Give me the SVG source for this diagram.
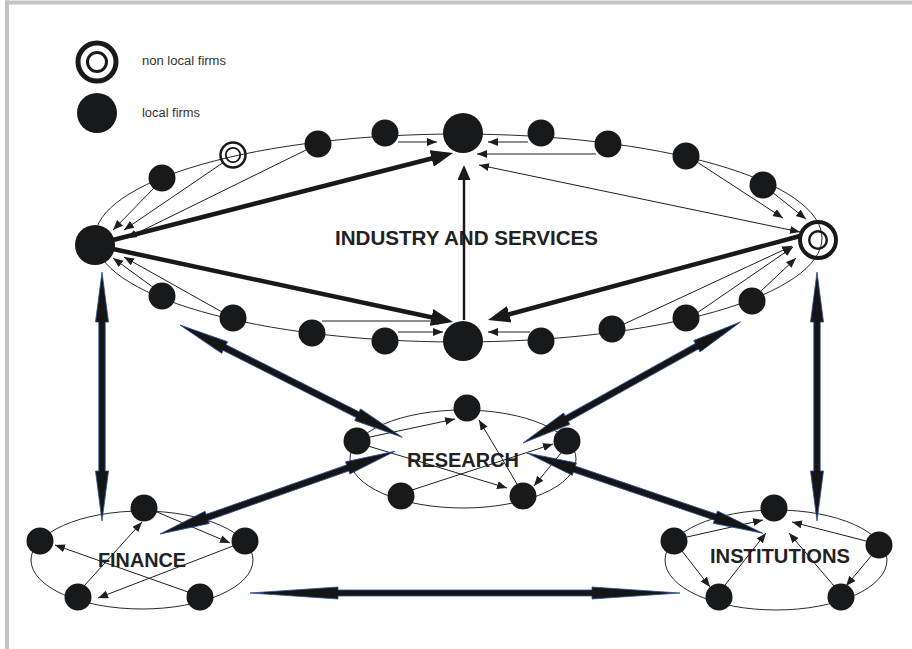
<svg xmlns="http://www.w3.org/2000/svg" width="912" height="649" viewBox="0 0 912 649">
<style>
.ell{fill:none;stroke:#2a2a2a;stroke-width:1}
.n{fill:#18191b}
.ring{fill:none;stroke:#18191b}
.t{stroke:#1e1e1e;stroke-width:1;fill:none;marker-end:url(#ah)}
.thick{stroke:#18191b;stroke-width:4.5;fill:none;marker-end:url(#ahT)}
.big{fill:#151515;stroke:#2d4f9e;stroke-width:0.8}
.lbl{font-family:"Liberation Sans",Arial,sans-serif;font-weight:bold;fill:#222}
.leg{font-family:"Liberation Sans",Arial,sans-serif;font-size:12px;fill:#333}
</style>
<defs>
<marker id="ah" markerUnits="userSpaceOnUse" markerWidth="11" markerHeight="9" refX="10" refY="4" orient="auto"><path d="M0,0 L10,4 L0,8 Z" fill="#1e1e1e"/></marker>
<marker id="ahs" markerUnits="userSpaceOnUse" markerWidth="11" markerHeight="9" refX="10" refY="4" orient="auto-start-reverse"><path d="M0,0 L10,4 L0,8 Z" fill="#1e1e1e"/></marker>
<marker id="ahT" markerUnits="userSpaceOnUse" markerWidth="23" markerHeight="18" refX="14" refY="8.5" orient="auto"><path d="M0,0 L22,8.5 L0,17 Z" fill="#18191b"/></marker>
<marker id="ahM" markerUnits="userSpaceOnUse" markerWidth="16" markerHeight="13" refX="9" refY="6.5" orient="auto"><path d="M0,0 L15,6.5 L0,13 Z" fill="#18191b"/></marker>
<path id="dbl" d="M0,0 L50,-6.5 L50,-3.2 L199,-3.2 L199,-6.5 L249,0 L199,6.5 L199,3.2 L50,3.2 L50,6.5 Z"/>
<path id="dblH" d="M0,0 L88,-6 L88,-3 L342,-3 L342,-6 L430,0 L342,6 L342,3 L88,3 L88,6 Z"/>
</defs>
<rect width="912" height="649" fill="#fff"/>
<rect x="5" y="0.5" width="907" height="4" fill="#c3c3c3"/>
<rect x="5" y="0.5" width="4" height="648.5" fill="#c3c3c3"/>

<g id="legend">
<circle cx="97" cy="62" r="19" fill="none" stroke="#18191b" stroke-width="5"/>
<circle cx="97" cy="62" r="9.5" fill="none" stroke="#18191b" stroke-width="3"/>
<text class="leg" x="142" y="65" textLength="84" lengthAdjust="spacingAndGlyphs">non local firms</text>
<circle cx="97" cy="113" r="20" fill="#18191b"/>
<text class="leg" x="142" y="117" textLength="58" lengthAdjust="spacingAndGlyphs">local firms</text>
</g>

<g id="industry">
<ellipse class="ell" cx="458.5" cy="238" rx="363.5" ry="104"/>
<text class="lbl" x="335" y="245" font-size="20" textLength="263" lengthAdjust="spacingAndGlyphs">INDUSTRY AND SERVICES</text>
</g>
<g id="research">
<ellipse class="ell" cx="463" cy="459" rx="113" ry="49"/>
<text class="lbl" x="407" y="467" font-size="21" textLength="112" lengthAdjust="spacingAndGlyphs">RESEARCH</text>
</g>
<g id="finance">
<ellipse class="ell" cx="142" cy="560" rx="111" ry="49"/>
<text class="lbl" x="98" y="567" font-size="21" textLength="88" lengthAdjust="spacingAndGlyphs">FINANCE</text>
</g>
<g id="institutions">
<ellipse class="ell" cx="776" cy="560" rx="111" ry="50"/>
<text class="lbl" x="710" y="563" font-size="21" textLength="140" lengthAdjust="spacingAndGlyphs">INSTITUTIONS</text>
</g>

<g id="connectors">
<!-- industry thin arrows -->
<line class="t" x1="398" y1="142" x2="437" y2="142"/>
<line class="t" x1="528" y1="142" x2="488" y2="142"/>
<line class="t" x1="596" y1="154" x2="477" y2="154"/>
<line class="t" x1="800" y1="232" x2="479" y2="165" style="marker-start:url(#ahs)"/>
<line class="t" x1="154" y1="188" x2="113" y2="230"/>
<line class="t" x1="224" y1="162" x2="124" y2="230"/>
<line class="t" x1="306" y1="150" x2="127" y2="238"/>
<line class="t" x1="154" y1="288" x2="113" y2="258"/>
<line class="t" x1="222" y1="312" x2="124" y2="257"/>
<line class="t" x1="697" y1="162" x2="783" y2="218"/>
<line class="t" x1="772" y1="192" x2="806" y2="219"/>
<line class="t" x1="622" y1="325" x2="792" y2="246"/>
<line class="t" x1="697" y1="313" x2="793" y2="247"/>
<line class="t" x1="760" y1="292" x2="796" y2="258"/>
<line class="t" x1="322" y1="321" x2="447" y2="321"/>
<line class="t" x1="398" y1="332" x2="443" y2="332"/>
<line class="t" x1="530" y1="332" x2="488" y2="332"/>
<!-- industry thick arrows -->
<line class="thick" x1="113" y1="240" x2="445.2" y2="155"/>
<line class="thick" x1="113" y1="249" x2="445.2" y2="320.3"/>
<line class="thick" x1="800" y1="236" x2="495.7" y2="317.9"/>
<line x1="464" y1="320" x2="464" y2="171" stroke="#18191b" stroke-width="2.5" marker-end="url(#ahM)"/>
<!-- research -->
<line class="t" x1="370" y1="437" x2="455" y2="419"/>
<line class="t" x1="368" y1="446" x2="507" y2="488"/>
<line class="t" x1="412" y1="490" x2="553" y2="444"/>
<line class="t" x1="517" y1="484" x2="479" y2="420"/>
<line class="t" x1="561" y1="453" x2="534" y2="486"/>
<!-- finance -->
<line class="t" x1="157" y1="512" x2="230" y2="543"/>
<line class="t" x1="233" y1="546" x2="98" y2="598"/>
<line class="t" x1="188" y1="592" x2="55" y2="545"/>
<line class="t" x1="84" y1="586" x2="142" y2="522"/>
<!-- institutions -->
<line class="t" x1="687" y1="537" x2="763" y2="520"/>
<line class="t" x1="682" y1="551" x2="710" y2="587"/>
<line class="t" x1="725" y1="585" x2="766" y2="533"/>
<line class="t" x1="834" y1="586" x2="789" y2="533"/>
<line class="t" x1="866" y1="541" x2="792" y2="522"/>
<line class="t" x1="872" y1="555" x2="846" y2="586"/>
<!-- big double arrows between sectors -->
<use href="#dbl" class="big" transform="translate(102,272) rotate(90)"/>
<use href="#dbl" class="big" transform="translate(817,272) rotate(90)"/>
<use href="#dbl" class="big" transform="translate(180,325) rotate(26.8)"/>
<use href="#dbl" class="big" transform="translate(523,443) rotate(-29.1)"/>
<use href="#dbl" class="big" transform="translate(160,534) rotate(-19.4)"/>
<use href="#dbl" class="big" transform="translate(527,453) rotate(18.8)"/>
<use href="#dblH" class="big" transform="translate(250,593)"/>
</g>

<!-- industry nodes -->
<g id="i-left"><circle class="n" cx="95" cy="245" r="20"/></g>
<g id="i-t1"><circle class="n" cx="162" cy="178" r="13.5"/></g>
<g id="i-t2"><circle class="ring" cx="233" cy="155" r="12.5" stroke-width="2.5"/><circle class="ring" cx="233" cy="155" r="7.2" stroke-width="1.8"/></g>
<g id="i-t3"><circle class="n" cx="318" cy="144" r="13.5"/></g>
<g id="i-t4"><circle class="n" cx="385" cy="133" r="13.5"/></g>
<g id="i-top"><circle class="n" cx="463" cy="133" r="20"/></g>
<g id="i-t5"><circle class="n" cx="541" cy="133" r="13.5"/></g>
<g id="i-t6"><circle class="n" cx="608" cy="144" r="13.5"/></g>
<g id="i-t7"><circle class="n" cx="686" cy="156" r="13.5"/></g>
<g id="i-t8"><circle class="n" cx="763" cy="185" r="13.5"/></g>
<g id="i-right"><circle class="ring" cx="818" cy="240" r="18" stroke-width="4"/><circle class="ring" cx="818" cy="240" r="8.8" stroke-width="2.4"/></g>
<g id="i-b1"><circle class="n" cx="162" cy="296" r="13.5"/></g>
<g id="i-b2"><circle class="n" cx="233" cy="318" r="13.5"/></g>
<g id="i-b3"><circle class="n" cx="312" cy="333" r="13.5"/></g>
<g id="i-b4"><circle class="n" cx="385" cy="341" r="13.5"/></g>
<g id="i-bottom"><circle class="n" cx="463" cy="341" r="20"/></g>
<g id="i-b5"><circle class="n" cx="541" cy="341" r="13.5"/></g>
<g id="i-b6"><circle class="n" cx="612" cy="329" r="13.5"/></g>
<g id="i-b7"><circle class="n" cx="686" cy="318" r="13.5"/></g>
<g id="i-b8"><circle class="n" cx="752" cy="301" r="13.5"/></g>
<!-- research nodes -->
<g id="r-top"><circle class="n" cx="467" cy="408" r="13.5"/></g>
<g id="r-left"><circle class="n" cx="357" cy="441" r="13.5"/></g>
<g id="r-right"><circle class="n" cx="567" cy="441" r="13.5"/></g>
<g id="r-bl"><circle class="n" cx="401" cy="496" r="13.5"/></g>
<g id="r-br"><circle class="n" cx="523" cy="496" r="13.5"/></g>
<!-- finance nodes -->
<g id="f-top"><circle class="n" cx="144" cy="508" r="13.5"/></g>
<g id="f-left"><circle class="n" cx="40" cy="541" r="13.5"/></g>
<g id="f-right"><circle class="n" cx="245" cy="541" r="13.5"/></g>
<g id="f-bl"><circle class="n" cx="78" cy="597" r="13.5"/></g>
<g id="f-br"><circle class="n" cx="200" cy="597" r="13.5"/></g>
<!-- institutions nodes -->
<g id="n-top"><circle class="n" cx="774" cy="508" r="13.5"/></g>
<g id="n-left"><circle class="n" cx="674" cy="541" r="13.5"/></g>
<g id="n-right"><circle class="n" cx="879" cy="545" r="13.5"/></g>
<g id="n-bl"><circle class="n" cx="719" cy="597" r="13.5"/></g>
<g id="n-br"><circle class="n" cx="841" cy="597" r="13.5"/></g>
</svg>
